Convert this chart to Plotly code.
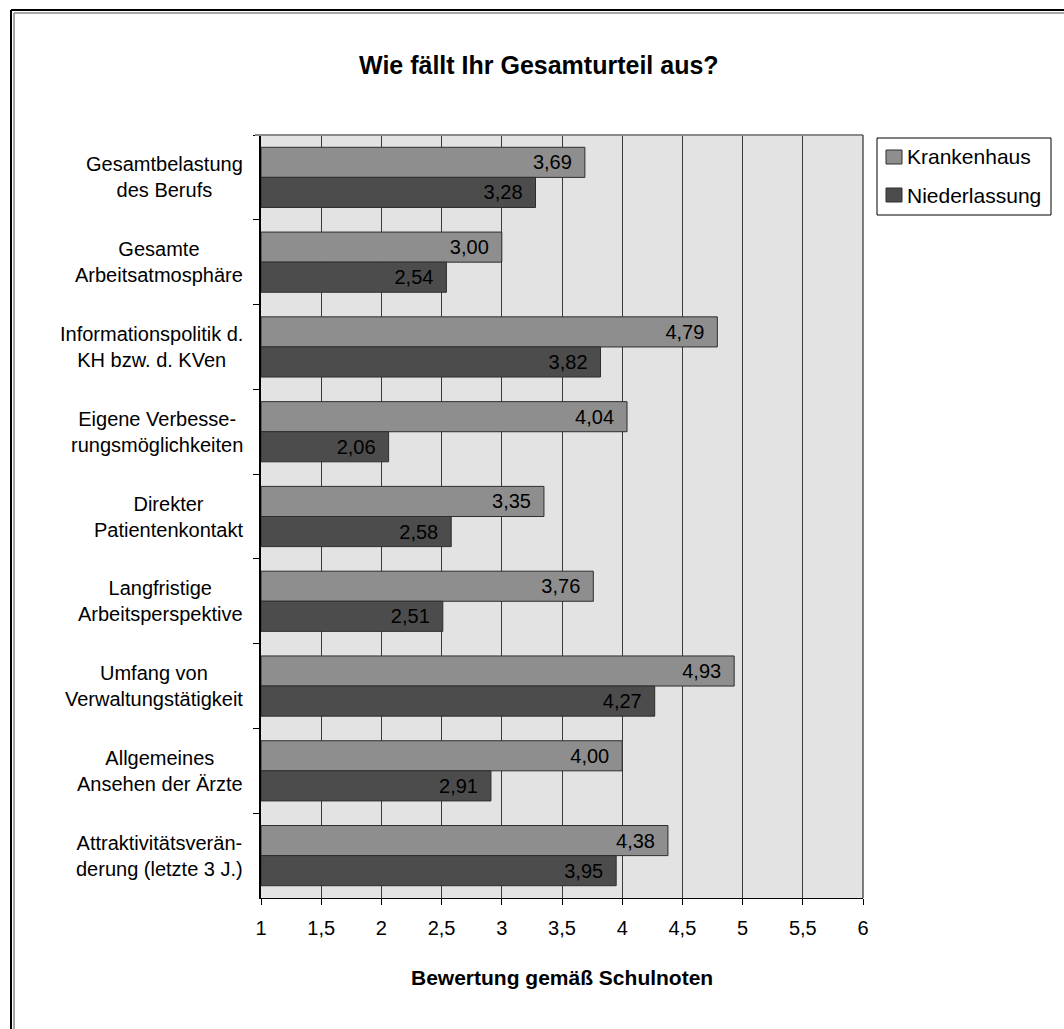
import plotly.graph_objects as go

categories = [
    "Gesamtbelastung<br>des Berufs",
    "Gesamte<br>Arbeitsatmosphäre",
    "Informationspolitik d.<br>KH bzw. d. KVen",
    "Eigene Verbesse-<br>rungsmöglichkeiten",
    "Direkter<br>Patientenkontakt",
    "Langfristige<br>Arbeitsperspektive",
    "Umfang von<br>Verwaltungstätigkeit",
    "Allgemeines<br>Ansehen der Ärzte",
    "Attraktivitätsverän-<br>derung (letzte 3 J.)",
]
krankenhaus = [3.69, 3.00, 4.79, 4.04, 3.35, 3.76, 4.93, 4.00, 4.38]
niederlassung = [3.28, 2.54, 3.82, 2.06, 2.58, 2.51, 4.27, 2.91, 3.95]
series_names = ["Krankenhaus", "Niederlassung"]
series_colors = ["#8e8e8e", "#4c4c4c"]
x_ticks = [1, 1.5, 2, 2.5, 3, 3.5, 4, 4.5, 5, 5.5, 6]
title_text = "Wie fällt Ihr Gesamturteil aus?"
x_title = "Bewertung gemäß Schulnoten"
scale_min = 1

W, H = 1064, 1029
L, R, T, B = 261, 863, 135, 898
FONT = "Liberation Sans, Arial, sans-serif"


def px(xp):
    return (xp - L) / (R - L)


def py(yp):
    return (B - yp) / (B - T)


def lab(v):
    return f"{v:.2f}".replace(".", ",") + "\u2002"


fig = go.Figure()
for name, vals, col in zip(series_names, [krankenhaus, niederlassung], series_colors):
    fig.add_trace(go.Bar(
        name=name,
        y=categories,
        x=[v - scale_min for v in vals],
        base=scale_min,
        orientation="h",
        marker=dict(color=col, line=dict(color="#2e2e2e", width=1)),
        text=[lab(v) for v in vals],
        textposition="inside",
        insidetextanchor="end",
        constraintext="none",
        textangle=0,
        textfont=dict(family=FONT, size=20, color="#000000"),
        hoverinfo="skip",
        showlegend=False,
    ))

fig.update_layout(
    width=W, height=H,
    margin=dict(l=L, r=W - R, t=T, b=H - B, pad=0, autoexpand=False),
    paper_bgcolor="white",
    plot_bgcolor="#e3e3e3",
    barmode="group",
    bargap=0.29,
    bargroupgap=0,
    separators=",.",
    showlegend=False,
    font=dict(family=FONT, size=20, color="#000000"),
)

fig.update_xaxes(
    range=[1, 6],
    tickvals=x_ticks,
    ticks="outside", ticklen=6, tickcolor="#000000", tickwidth=1,
    tickfont=dict(family=FONT, size=20, color="#000000"),
    ticklabelstandoff=6,
    showgrid=True, gridcolor="#3a3a3a", gridwidth=1,
    showline=True, linecolor="#000000", linewidth=1,
    zeroline=False,
    fixedrange=True,
)
fig.update_yaxes(
    autorange="reversed",
    showticklabels=False,
    ticks="outside", ticklen=6, tickcolor="#000000", tickwidth=1,
    tickson="boundaries",
    showgrid=False,
    showline=True, linecolor="#000000", linewidth=1.5,
    fixedrange=True,
)

# category labels (centred lines, block right-aligned)
for c in categories:
    fig.add_annotation(
        x=px(245), xref="paper", y=c, yref="y",
        text=c, showarrow=False, xanchor="right", yanchor="middle",
        align="center",
        font=dict(family=FONT, size=20, color="#000000"),
    )

# title and axis title
fig.add_annotation(
    x=px(539), y=py(65), xref="paper", yref="paper",
    text="<b>" + title_text + "</b>", showarrow=False,
    xanchor="center", yanchor="middle",
    font=dict(family=FONT, size=25, color="#000000"),
)
fig.add_annotation(
    x=0.5, y=py(977), xref="paper", yref="paper",
    text="<b>" + x_title + "</b>", showarrow=False,
    xanchor="center", yanchor="middle",
    font=dict(family=FONT, size=21, color="#000000"),
)

# legend (drawn by hand to match the box geometry)
fig.add_shape(type="rect", xref="paper", yref="paper",
              x0=px(877), x1=px(1051), y0=py(215), y1=py(138),
              line=dict(color="#000000", width=1), fillcolor="white")
for i, (name, col) in enumerate(zip(series_names, series_colors)):
    yc = 157 + i * 38
    fig.add_shape(type="rect", xref="paper", yref="paper",
                  x0=px(886), x1=px(902), y0=py(yc + 7), y1=py(yc - 7),
                  line=dict(color="#2e2e2e", width=1), fillcolor=col)
    fig.add_annotation(
        x=px(905), y=py(yc), xref="paper", yref="paper",
        text=name, showarrow=False, xanchor="left", yanchor="middle",
        font=dict(family=FONT, size=21, color="#000000"),
    )

# plot area top / right border
fig.add_shape(type="line", xref="paper", yref="paper",
              x0=px(255), x1=1, y0=1, y1=1,
              line=dict(color="#8a8a8a", width=2))
fig.add_shape(type="line", xref="paper", yref="paper",
              x0=1, x1=1, y0=0, y1=1,
              line=dict(color="#555555", width=1.5))

# double frame around the chart (cropped at right / bottom)
fig.add_shape(type="line", xref="paper", yref="paper",
              x0=px(11), x1=px(1080), y0=py(10), y1=py(10),
              line=dict(color="#000000", width=2))
fig.add_shape(type="line", xref="paper", yref="paper",
              x0=px(11), x1=px(11), y0=py(10), y1=py(1045),
              line=dict(color="#000000", width=2))
fig.add_shape(type="line", xref="paper", yref="paper",
              x0=px(14), x1=px(1080), y0=py(13), y1=py(13),
              line=dict(color="#8a8a8a", width=1.5))
fig.add_shape(type="line", xref="paper", yref="paper",
              x0=px(14), x1=px(14), y0=py(13), y1=py(1045),
              line=dict(color="#8a8a8a", width=1.5))

fig.write_html("out.html")
